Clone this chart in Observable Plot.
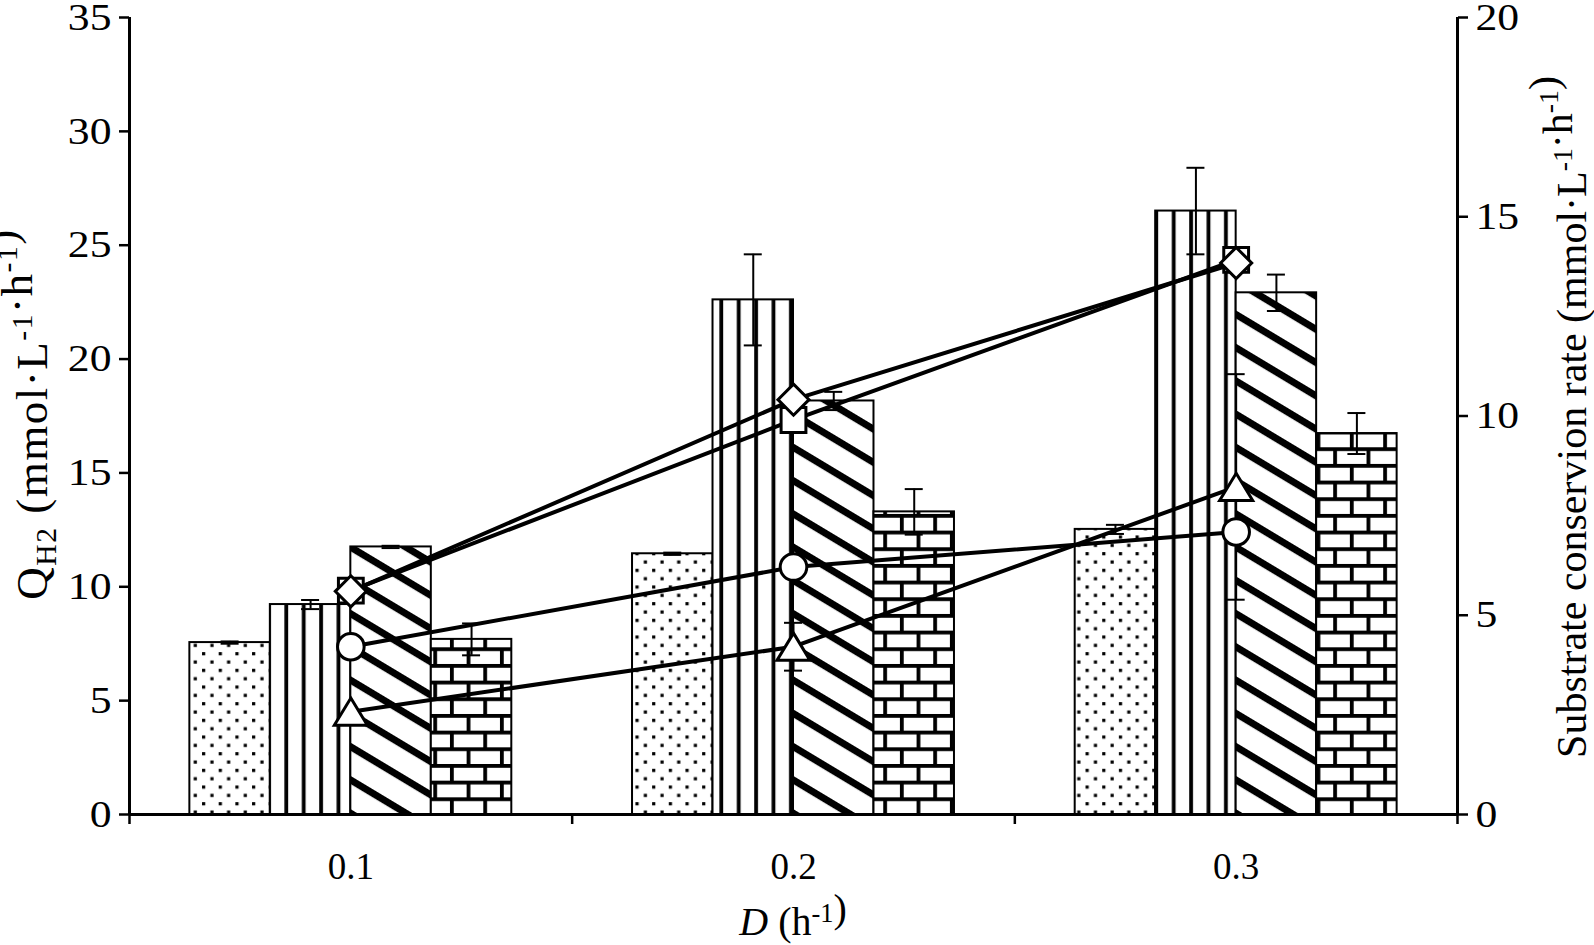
<!DOCTYPE html>
<html><head><meta charset="utf-8">
<script src="https://cdn.jsdelivr.net/npm/d3@7"></script>
<script src="https://cdn.jsdelivr.net/npm/@observablehq/plot@0.6"></script>
<style>html,body{margin:0;padding:0;background:#fff;overflow:hidden}</style>
</head><body><div id="chart"></div>
<script>
// ---------- data ----------
const D = [0.1, 0.2, 0.3];
const barSeries = ["Bar 1", "Bar 2", "Bar 3", "Bar 4"];
const barValues = [
  [7.55, 11.45, 12.52],
  [9.22, 22.6, 26.5],
  [11.75, 18.16, 22.91],
  [7.69, 13.29, 16.73]
];
const barErrors = [
  [0.05, 0.05, 0.2],
  [0.2, 2.0, 1.9],
  [0.05, 0.4, 0.8],
  [0.7, 1.0, 0.9]
];
const lineSeries = ["Triangle", "Circle", "Square", "Diamond"];
const lineValues = [
  [2.58, 4.21, 8.22],
  [4.21, 6.21, 7.09],
  [5.62, 9.9, 13.92],
  [5.6, 10.41, 13.84]
];
const lineErrors = [
  [0, 0.6, 2.83],
  [0, 0, 0.1],
  [0, 0, 0],
  [0, 0, 0]
];
const leftTicks = [0, 5, 10, 15, 20, 25, 30, 35];
const rightTicks = [0, 5, 10, 15, 20];
const xTickLabels = ["0.1", "0.2", "0.3"];

// ---------- layout helpers ----------
const W = 1594, H = 945;
const mL = 129, mR = 137, mT = 17, mB = 131;
const leftMax = 35, rightMax = 20, k = leftMax / rightMax;
const step = 0.1;
const xDomain = [D[0] - step / 2, D[D.length - 1] + step / 2];
const barW = step / 5.5; // Excel gap width 150%
const pxPerX = (W - mL - mR) / (xDomain[1] - xDomain[0]);
const capHalf = 9 / pxPerX;
const patternIds = ["pat-dots", "pat-vlines", "pat-diag", "pat-brick"];

const bars = [];
barSeries.forEach((s, i) => D.forEach((d, j) => {
  const x1 = d + (i - barSeries.length / 2) * barW;
  bars.push({series: s, i, D: d, x1, x2: x1 + barW, xc: x1 + barW / 2,
             v: barValues[i][j], e: barErrors[i][j]});
}));
const lines = [];
lineSeries.forEach((s, i) => D.forEach((d, j) => {
  lines.push({series: s, i, D: d, v: lineValues[i][j] * k, e: lineErrors[i][j] * k});
}));
const barErr = bars.filter(b => b.e > 0);
const lineErr = lines.filter(b => b.e > 0);

const triangle = {draw(ctx, size) {
  const s = Math.sqrt(size);
  const hw = 0.74 * s, hh = 0.61 * s;
  ctx.moveTo(0, -hh); ctx.lineTo(hw, hh); ctx.lineTo(-hw, hh); ctx.closePath();
}};
const symbols = [triangle, "circle", "square", "diamond2"];
const radii = [12.6, 13.3, 14, 14];

const font = "Liberation Serif, Times New Roman, serif";
const fs = 37;

const marks = [
  Plot.rectY(bars, {x1: "x1", x2: "x2", y1: 0, y2: "v",
    fill: d => `url(#${patternIds[d.i]})`, stroke: "black", strokeWidth: 2}),
  Plot.ruleX(barErr, {x: "xc", y1: d => d.v - d.e, y2: d => d.v + d.e, stroke: "black", strokeWidth: 2}),
  Plot.ruleY(barErr, {y: d => d.v + d.e, x1: d => d.xc - capHalf, x2: d => d.xc + capHalf, stroke: "black", strokeWidth: 2}),
  Plot.ruleY(barErr, {y: d => d.v - d.e, x1: d => d.xc - capHalf, x2: d => d.xc + capHalf, stroke: "black", strokeWidth: 2}),
  Plot.line(lines, {x: "D", y: "v", z: "series", stroke: "black", strokeWidth: 4}),
  Plot.ruleX(lineErr, {x: "D", y1: d => d.v - d.e, y2: d => d.v + d.e, stroke: "black", strokeWidth: 2}),
  Plot.ruleY(lineErr, {y: d => d.v + d.e, x1: d => d.D - capHalf, x2: d => d.D + capHalf, stroke: "black", strokeWidth: 2}),
  Plot.ruleY(lineErr, {y: d => d.v - d.e, x1: d => d.D - capHalf, x2: d => d.D + capHalf, stroke: "black", strokeWidth: 2}),
  ...lineSeries.map((s, i) => Plot.dot(lines.filter(d => d.i === i), {
    x: "D", y: "v", symbol: symbols[i], r: radii[i], fill: "white", stroke: "black", strokeWidth: 3})),
  // axes
  Plot.axisY({ticks: leftTicks, tickSize: 10, tickPadding: 8, tickFormat: d => String(d),
    fontSize: 38, fontFamily: font, strokeWidth: 2.5}),
  Plot.axisY({anchor: "right", ticks: rightTicks.map(t => t * k), tickSize: 10, tickPadding: 8,
    tickFormat: d => String(Math.round(d / k)), fontSize: 38, fontFamily: font, strokeWidth: 2.5}),
  Plot.axisX({ticks: D, tickSize: 0, tickPadding: 38, tickFormat: (d, i) => xTickLabels[i],
    fontSize: fs, fontFamily: font}),
  Plot.axisX({ticks: [xDomain[0], ...D.slice(1).map(d => d - step / 2), xDomain[1]], tickSize: 10,
    tickFormat: () => "", strokeWidth: 2.5}),
  Plot.ruleX(xDomain, {y1: 0, y2: leftMax, stroke: "black", strokeWidth: 3}),
  Plot.ruleY([0], {x1: xDomain[0], x2: xDomain[1], stroke: "black", strokeWidth: 3})
];

const svg = Plot.plot({
  width: W, height: H,
  marginLeft: mL, marginRight: mR, marginTop: mT, marginBottom: mB,
  x: {type: "linear", domain: xDomain, label: null},
  y: {domain: [0, leftMax], label: null},
  style: {fontFamily: font, fontSize: fs + "px", background: "white", color: "black", overflow: "visible"},
  marks
});

// widen the y tick labels slightly (reference glyphs are broader)
d3.select(svg).selectAll('g[aria-label="y-axis tick label"] text').each(function() {
  const tr = this.getAttribute("transform");
  if (tr && tr.includes("translate")) this.setAttribute("transform", tr + " scale(1.15,1)");
});

// ---------- patterns ----------
const defs = d3.select(svg).insert("defs", ":first-child");
{
  const p = defs.append("pattern").attr("id", "pat-dots").attr("patternUnits", "userSpaceOnUse")
    .attr("width", 16.67).attr("height", 16.67);
  p.append("rect").attr("width", 16.67).attr("height", 16.67).attr("fill", "white");
  p.append("rect").attr("x", 2).attr("y", 2).attr("width", 3.2).attr("height", 3.2).attr("fill", "black");
  p.append("rect").attr("x", 10.33).attr("y", 10.33).attr("width", 3.2).attr("height", 3.2).attr("fill", "black");
}
{
  const p = defs.append("pattern").attr("id", "pat-vlines").attr("patternUnits", "userSpaceOnUse")
    .attr("width", 17.4).attr("height", 20);
  p.append("rect").attr("width", 17.4).attr("height", 20).attr("fill", "white");
  p.append("rect").attr("x", 6).attr("width", 3.8).attr("height", 20).attr("fill", "black");
}
{
  const P = 28.5;
  const p = defs.append("pattern").attr("id", "pat-diag").attr("patternUnits", "userSpaceOnUse")
    .attr("width", 40).attr("height", P).attr("patternTransform", "rotate(31)");
  p.append("rect").attr("width", 40).attr("height", P).attr("fill", "white");
  p.append("rect").attr("y", 0).attr("width", 40).attr("height", 7).attr("fill", "black");
}
{
  const bw = 33.33, bh = 16.67, t = 3.8;
  const p = defs.append("pattern").attr("id", "pat-brick").attr("patternUnits", "userSpaceOnUse")
    .attr("width", bw).attr("height", 2 * bh).attr("y", 814);
  p.append("rect").attr("width", bw).attr("height", 2 * bh).attr("fill", "white");
  p.append("rect").attr("y", 0).attr("width", bw).attr("height", t).attr("fill", "black");
  p.append("rect").attr("y", bh).attr("width", bw).attr("height", t).attr("fill", "black");
  p.append("rect").attr("x", 0).attr("y", 0).attr("width", t).attr("height", bh).attr("fill", "black");
  p.append("rect").attr("x", bw / 2).attr("y", bh).attr("width", t).attr("height", bh).attr("fill", "black");
}

// ---------- axis titles ----------
const s = d3.select(svg);
const sup = (t, txt, fsz) => {
  const sh = Math.round(fsz * 0.33);
  t.append("tspan").attr("dy", -sh).attr("font-size", "66%").text(txt);
  t.append("tspan").attr("dy", sh).text("");
};
{
  const f = 45;
  const t = s.append("text").attr("transform", "translate(47,414) rotate(-90)")
    .attr("text-anchor", "middle").attr("font-family", font).attr("font-size", f)
    .attr("letter-spacing", 1.5).attr("fill", "black");
  t.append("tspan").text("Q");
  t.append("tspan").attr("dy", 9).attr("font-size", "66%").text("H2");
  t.append("tspan").attr("dy", -9).text(" (mmol·L");
  sup(t, "-1", f);
  t.append("tspan").text("·h");
  sup(t, "-1", f);
  t.append("tspan").text(")");
}
{
  const f = 42;
  const t = s.append("text").attr("transform", "translate(1586,417) rotate(-90)")
    .attr("text-anchor", "middle").attr("font-family", font).attr("font-size", f).attr("fill", "black");
  t.append("tspan").text("Substrate conservion rate (mmol·L");
  sup(t, "-1", f);
  t.append("tspan").text("·h");
  sup(t, "-1", f);
  t.append("tspan").text(")");
}
{
  const f = 40;
  const t = s.append("text").attr("x", 793).attr("y", 935)
    .attr("text-anchor", "middle").attr("font-family", font).attr("font-size", f).attr("fill", "black");
  t.append("tspan").attr("font-style", "italic").text("D");
  t.append("tspan").text(" (h");
  sup(t, "-1", f);
  t.append("tspan").text(")");
}

document.getElementById("chart").appendChild(svg);
</script>
</body></html>
